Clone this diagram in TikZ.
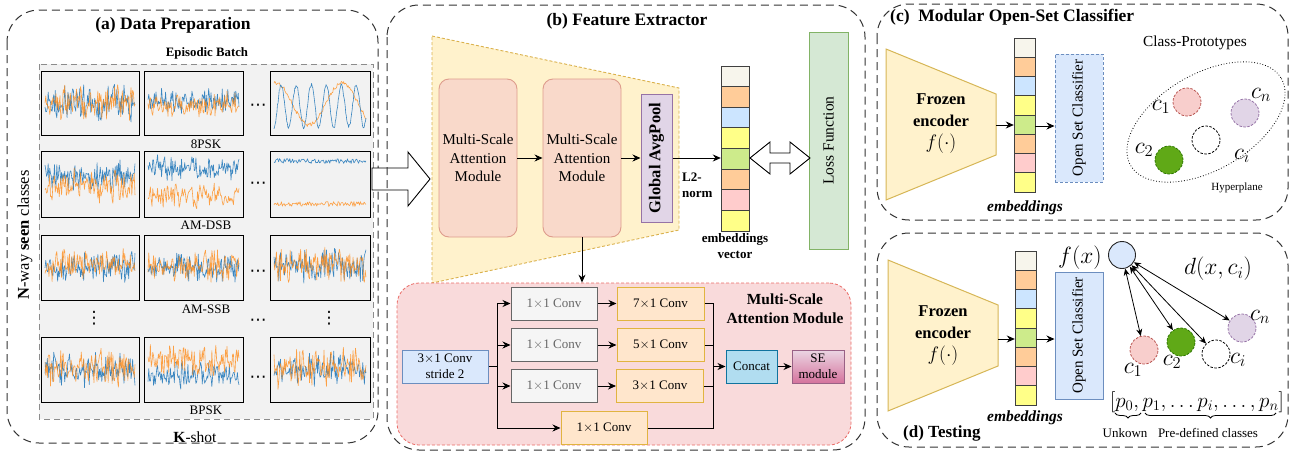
\RequirePackage{fix-cm}
\documentclass[tikz,border=0pt]{standalone}
\usepackage{fontspec}
\setmainfont{Liberation Serif}
\newfontfamily\symfont{DejaVu Sans}
\usepackage{graphicx}
\usetikzlibrary{arrows.meta,decorations.pathreplacing,calc}

\newcommand\fsz[2]{\fontsize{#1}{#2}\selectfont}

\definecolor{sigB}{HTML}{3A86C0}
\definecolor{sigO}{HTML}{FF8C1A}
\definecolor{batchF}{HTML}{F2F2F2}
\definecolor{yelF}{HTML}{FFF2CC}
\definecolor{yelD}{HTML}{D6B656}
\definecolor{msaF}{HTML}{F9D9CA}
\definecolor{msaD}{HTML}{DE9C8C}
\definecolor{gapF}{HTML}{E1D5E7}
\definecolor{gapD}{HTML}{9673A6}
\definecolor{lossF}{HTML}{D5E8D4}
\definecolor{lossD}{HTML}{82B366}
\definecolor{bluF}{HTML}{DAE8FC}
\definecolor{bluD}{HTML}{6C8EBF}
\definecolor{grayF}{HTML}{F5F5F5}
\definecolor{grayD}{HTML}{666666}
\definecolor{oraF}{HTML}{FFE6CC}
\definecolor{oraD}{HTML}{D79B00}
\definecolor{catF}{HTML}{B1DDF0}
\definecolor{catD}{HTML}{10739E}
\definecolor{seTop}{HTML}{EBD6E3}
\definecolor{seBot}{HTML}{D5739D}
\definecolor{seD}{HTML}{996185}
\definecolor{detF}{HTML}{F9DADB}
\definecolor{detD}{HTML}{EA6B66}
\definecolor{redF}{HTML}{F8CECC}
\definecolor{redD}{HTML}{B85450}
\definecolor{grnF}{HTML}{60A917}
\definecolor{grnD}{HTML}{2D7600}
\definecolor{emA}{HTML}{F7F5EC}
\definecolor{emB}{HTML}{FFCC99}
\definecolor{emC}{HTML}{CCE5FF}
\definecolor{emD}{HTML}{FFFF88}
\definecolor{emE}{HTML}{CDEB8B}
\definecolor{emF}{HTML}{FFCCCC}

\tikzset{
  panelbox/.style={draw=black!80, line width=1pt, dash pattern=on 8pt off 5pt, rounded corners=32pt},
  batchbox/.style={draw=black!45, fill=batchF, line width=1pt, dash pattern=on 6pt off 4pt},
  sigbox/.style={draw=black, line width=0.9pt},
  sigblue/.style={draw=sigB, line width=0.6pt, line join=round},
  sigorange/.style={draw=sigO, line width=0.6pt, line join=round, draw opacity=0.8},
  lbl/.style={font=\fsz{13}{15.6}, inner sep=0pt},
  ttl/.style={font=\bfseries\fsz{17.5}{21}, inner sep=0pt},
  dotsym/.style={font=\symfont\fsz{17}{20}, inner sep=0pt},
  arr/.style={-{Stealth[length=8pt,width=7pt]}, line width=0.9pt},
  darr/.style={{Stealth[length=7pt,width=6pt]}-{Stealth[length=7pt,width=6pt]}, line width=0.8pt},
  hollow/.style={draw=black, fill=white, line width=0.9pt, line join=miter},
  msabox/.style={draw=msaD, fill=msaF, rounded corners=10pt, line width=0.9pt,
    minimum width=78pt, minimum height=158pt, inner sep=0pt, align=center, font=\fsz{15}{18.5}},
  mbox/.style={rectangle, inner sep=0pt, line width=1pt, align=center, font=\fsz{13}{15.6}},
  grayconv/.style={mbox, draw=grayD, fill=grayF, text=black!60, minimum width=86pt, minimum height=33pt},
  oraconv/.style={mbox, draw=oraD!75, fill=oraF, minimum width=87pt, minimum height=33pt},
  cellst/.style={draw=black!75, line width=0.8pt},
  proto/.style={circle, minimum size=28pt, inner sep=0pt, dash pattern=on 2.5pt off 1.5pt, line width=0.8pt},
  encbox/.style={draw=yelD, fill=yelF, line width=1pt},
  enctext/.style={align=center, inner sep=0pt, font=\bfseries\fsz{16.5}{21.5}},
  mlab/.style={font=\fsz{23.5}{27}, inner sep=0pt},
  osc/.style={mbox, draw=bluD, fill=bluF, minimum width=48pt, font=\fsz{15}{18}},
}

% one episodic sample: two noisy channels inside a framed box
\newcommand\sigpanel[8]{%
  \begin{scope}
    \clip (#1,#2) rectangle (#3,#4);
    \draw[sigblue] plot[domain=#1+4:#3-4, samples=115] (\x,{#5+#6*0.6*(rand+rand)});
    \draw[sigorange] plot[domain=#1+4:#3-4, samples=115] (\x,{#7+#8*0.6*(rand+rand)});
  \end{scope}
  \draw[sigbox] (#1,#2) rectangle (#3,#4);
}

% embedding vector of eight coloured cells
\newcommand\embcol[5]{%
  \foreach \cc [count=\k from 0] in {emA,emB,emC,emD,emE,emB,emF,emD}{
    \pgfmathsetmacro\ya{#3+\k*#5/8}
    \pgfmathsetmacro\yb{#3+(\k+1)*#5/8}
    \draw[cellst, fill=\cc] (#2,\ya) rectangle (#2+#4,\yb);
  }
  \node[inner sep=0pt, minimum width=#4pt, minimum height=#5pt] (#1) at (#2+#4/2,#3+#5/2) {};
}

\begin{document}
\begin{tikzpicture}[x=1pt,y=-1pt]
\useasboundingbox (0,0) rectangle (1294,453);
\pgfmathsetseed{4242}

% ---------------- (a) Data preparation ----------------
\draw[panelbox] (7,10) rectangle (378,443);
\node[ttl] (ta) at (173,25) {(a) Data Preparation};
\node[font=\bfseries\fsz{12.8}{15}, inner sep=0pt] (eb) at (207,53) {Episodic Batch};
\draw[batchbox] (39,64) rectangle (373,419);

\sigpanel{41}{71}{139}{135}{103}{17}{103}{18}
\sigpanel{144}{71}{243}{135}{100}{12}{106}{13}
\begin{scope}
  \clip (270,71) rectangle (370,135);
  \draw[sigorange] plot[domain=274:366, samples=120] (\x,{104-21*cos((\x-276)*5.4545)+2*rand});
  \draw[sigblue] plot[domain=274:366, samples=160] (\x,{106+21*sin((\x-270)*24)+2*rand});
\end{scope}
\draw[sigbox] (270,71) rectangle (370,135);

\sigpanel{41}{151}{139}{217}{176}{14}{187}{17}
\sigpanel{144}{151}{243}{217}{168}{12}{195}{13}
\begin{scope}
  \clip (270,151) rectangle (370,217);
  \draw[sigblue] plot[domain=274:366, samples=100] (\x,{161+2.5*rand});
  \draw[sigorange] plot[domain=274:366, samples=100] (\x,{204+2.5*rand});
\end{scope}
\draw[sigbox] (270,151) rectangle (370,217);

\sigpanel{41}{235}{139}{300}{267}{15}{265}{15}
\sigpanel{144}{235}{243}{300}{268}{14}{266}{15}
\sigpanel{270}{235}{370}{300}{266}{16}{265}{16}

\sigpanel{41}{337}{139}{402}{370}{16}{368}{19}
\sigpanel{144}{337}{243}{402}{375}{12}{360}{15}
\sigpanel{270}{337}{370}{402}{370}{16}{368}{18}

\node[lbl] (l1) at (206,144) {8PSK};
\node[lbl] (l2) at (206,225) {AM-DSB};
\node[lbl] (l3) at (206,309) {AM-SSB};
\node[lbl] (l4) at (206,410) {BPSK};
\foreach \yy/\nm in {107/d1,185/d2,273/d3,322/d4,379/d5}
  \node[dotsym] (\nm) at (258,\yy) {⋯};
\node[dotsym] (v1) at (94,318) {⋮};
\node[dotsym] (v2) at (329,318) {⋮};
\node[font=\fsz{15.5}{18}, inner sep=0pt] (ks) at (195,437) {\textbf{K}-shot};
\node[font=\fsz{16.5}{19}, inner sep=0pt, rotate=90] (nw) at (25,235) {\textbf{N}-way \textbf{seen} classes};

% big hollow arrow into the feature extractor
\draw[hollow] (372,168) -- (408,168) -- (408,152) -- (430,179) -- (408,206) -- (408,190) -- (372,190) -- cycle;

% ---------------- (b) Feature extractor ----------------
\draw[panelbox] (387,5) rectangle (865,450);
\node[ttl] (tb) at (627,21) {(b) Feature Extractor};
\draw[fill=yelF, draw=yelD!90!orange, line width=0.9pt, dash pattern=on 3pt off 2pt]
  (432,36) -- (679,88) -- (679,230) -- (432,283) -- cycle;

\node[msabox] (msa1) at (478,158) {Multi-Scale\\Attention\\Module};
\node[msabox] (msa2) at (582,158) {Multi-Scale\\Attention\\Module};
\node[mbox, draw=gapD, fill=gapF, minimum width=31pt, minimum height=128pt] (gap) at (656.5,158)
  {\rotatebox{90}{\bfseries\fsz{16.5}{19}Global AvgPool}};
\draw[arr] (msa1.east) -- (msa2.west);
\draw[arr] (msa2.east) -- (gap.west);

\embcol{embB}{721}{66}{28}{165}
\draw[arr] (gap.east) -- (gap.east -| embB.west);
\node[font=\bfseries\fsz{13}{16}, align=left, inner sep=0pt, anchor=west] (l2n) at (682,185) {L2-\\norm};
\node[font=\bfseries\fsz{13}{16}, align=center, inner sep=0pt] (ev) at (735,246) {embeddings\\vector};

\node[mbox, draw=lossD, fill=lossF, minimum width=39pt, minimum height=217pt] (loss) at (828.5,140.5)
  {\rotatebox{90}{\fsz{15.5}{18}Loss Function}};
\draw[hollow] (750,158) -- (770,142) -- (770,153) -- (790,153) -- (790,142) -- (810,158)
  -- (790,174) -- (790,163) -- (770,163) -- (770,174) -- cycle;

% multi-scale attention module in detail
\node[draw=detD, fill=detF, line width=0.8pt, dash pattern=on 3pt off 2pt, rounded corners=22pt,
  minimum width=454pt, minimum height=162pt, inner sep=0pt] (det) at (624,364) {};
\draw[arr] (msa2.south) -- (msa2.south |- det.north);
\node[font=\bfseries\fsz{15.4}{19}, align=center, inner sep=0pt] (dt) at (785,309) {Multi-Scale\\Attention Module};

\node[mbox, draw=bluD, fill=bluF, minimum width=86pt, minimum height=33pt] (c31) at (445,366.5) {3$\times$1 Conv\\stride 2};
\node[grayconv] (r1a) at (554,303.5) {1$\times$1 Conv};
\node[oraconv]  (r1b) at (660.5,303.5) {7$\times$1 Conv};
\node[grayconv] (r2a) at (554,345) {1$\times$1 Conv};
\node[oraconv]  (r2b) at (660.5,345) {5$\times$1 Conv};
\node[grayconv] (r3a) at (554,386) {1$\times$1 Conv};
\node[oraconv]  (r3b) at (660,386) {3$\times$1 Conv};
\node[oraconv, minimum width=86pt] (r4) at (604,428) {1$\times$1 Conv};
\node[mbox, draw=catD, fill=catF, minimum width=51pt, minimum height=33pt] (cat) at (751.5,366.5) {Concat};
\node[mbox, draw=seD, top color=seTop, bottom color=seBot, minimum width=52pt, minimum height=33pt] (se) at (818,366.5) {SE\\module};

\coordinate (splitL) at (497,366.5);
\coordinate (joinR) at (713,366.5);
\draw[line width=0.9pt] (c31.east) -- (splitL);
\draw[arr] (splitL) |- (r1a.west);
\draw[arr] (splitL) |- (r2a.west);
\draw[arr] (splitL) |- (r3a.west);
\draw[arr] (splitL) |- (r4.west);
\draw[arr] (r1a.east) -- (r1b.west);
\draw[arr] (r2a.east) -- (r2b.west);
\draw[arr] (r3a.east) -- (r3b.west);
\draw[line width=0.9pt] (r1b.east) -| (joinR);
\draw[line width=0.9pt] (r2b.east) -| (joinR);
\draw[line width=0.9pt] (r3b.east) -| (joinR);
\draw[line width=0.9pt] (r4.east) -| (joinR);
\draw[arr] (joinR) -- (cat.west);
\draw[arr] (cat.east) -- (se.west);

% ---------------- (c) Modular open-set classifier ----------------
\draw[panelbox] (877,4) rectangle (1288,220);
\node[ttl, anchor=west] (tc) at (890,17) {(c)~~Modular Open-Set Classifier};
\draw[encbox] (886,49) -- (996,94) -- (996,155) -- (886,200) -- cycle;
\node[enctext] (fc) at (941,124) {Frozen\\encoder\\[1pt]{\fsz{19.5}{22}$f(\cdot)$}};
\coordinate (encC) at (996,125);
\embcol{embC}{1014}{38}{21}{154}
\draw[arr] (encC) -- (encC -| embC.west);
\node[font=\bfseries\itshape\fsz{15.5}{18}, inner sep=0pt] (ec) at (1025,208) {embeddings};
\node[osc, dash pattern=on 3pt off 2pt, minimum height=128pt] (oscC) at (1079,118)
  {\rotatebox{90}{Open Set Classifier}};
\draw[arr] ([yshift=-11pt]embC.east) -- ([yshift=-11pt]embC.east -| oscC.west);

\node[font=\fsz{15.3}{18}, inner sep=0pt] (cp) at (1195,43) {Class-Prototypes};
\draw[line width=0.8pt, dotted] plot[domain=0:360, samples=120]
  ({1206+87*cos(\x)*cos(30)+48*sin(\x)*sin(30)}, {122-87*cos(\x)*sin(30)+48*sin(\x)*cos(30)});
\node[proto, draw=redD, fill=redF] (pc1) at (1187,102) {};
\node[proto, draw=gapD, fill=gapF] (pcn) at (1245,113) {};
\node[proto, draw=black, fill=white] (pci) at (1206,140) {};
\node[proto, draw=grnD, fill=grnF] (pc2) at (1169,160) {};
\node[mlab] (lc1) at (1161,107) {$c_1$};
\node[mlab] (lcn) at (1261,95) {$c_n$};
\node[mlab] (lc2) at (1144,150) {$c_2$};
\node[mlab] (lci) at (1242,156) {$c_i$};
\node[font=\fsz{11}{13}, inner sep=0pt] (hp) at (1237,188) {Hyperplane};

% ---------------- (d) Testing ----------------
\draw[panelbox] (877,233) rectangle (1288,447);
\node[font=\bfseries\fsz{17}{20}, inner sep=0pt, anchor=west] (td) at (903,433) {(d) Testing};
\draw[encbox] (888,260) -- (998,305) -- (998,366) -- (888,411) -- cycle;
\node[enctext] (fd) at (943,336) {Frozen\\encoder\\[1pt]{\fsz{19.5}{22}$f(\cdot)$}};
\coordinate (encD) at (998,339);
\embcol{embD}{1015}{251}{21}{154}
\draw[arr] (encD) -- (encD -| embD.west);
\node[font=\bfseries\itshape\fsz{15.5}{18}, inner sep=0pt] (ed) at (1025,418) {embeddings};
\node[osc, minimum height=127pt] (oscD) at (1079,335.5) {\rotatebox{90}{Open Set Classifier}};
\draw[arr] ([yshift=-11pt]embD.east) -- ([yshift=-11pt]embD.east -| oscD.west);

\node[mlab] (fx) at (1080,258) {$f(x)$};
\node[circle, minimum size=27pt, inner sep=0pt, draw=black!85, fill=bluF, line width=0.9pt] (xq) at (1122,255) {};
\node[proto, draw=redD, fill=redF] (q1) at (1144,350) {};
\node[proto, draw=grnD, fill=grnF] (q2) at (1181,342) {};
\node[proto, draw=black, fill=white] (qi) at (1216,354) {};
\node[proto, draw=gapD, fill=gapF] (qn) at (1242,328) {};
\draw[darr] (xq) -- (q1);
\draw[darr] (xq) -- (q2);
\draw[darr] (xq) -- (qi);
\draw[darr] (xq) -- (qn);
\node[mlab] (dx) at (1218,269) {$d(x,c_i)$};
\node[mlab] (m1) at (1133,370) {$c_1$};
\node[mlab] (m2) at (1172,362) {$c_2$};
\node[mlab] (mi) at (1238,360) {$c_i$};
\node[mlab] (mn) at (1260,317) {$c_n$};
\node[font=\fsz{21}{25}, inner sep=0pt] (pl) at (1197,402) {$[p_0,p_1,\dots p_i,\dots,p_n]$};
\draw[line width=0.8pt, decorate, decoration={brace, mirror, amplitude=5pt}] (1115,413) -- (1141,413);
\draw[line width=0.8pt, decorate, decoration={brace, mirror, amplitude=5pt}] (1145,413) -- (1276,413);
\node[font=\fsz{13}{15}, inner sep=0pt] (uk) at (1125,433) {Unkown};
\node[font=\fsz{13}{15}, inner sep=0pt] (pd) at (1208,433) {Pre-defined classes};
\end{tikzpicture}
\end{document}
